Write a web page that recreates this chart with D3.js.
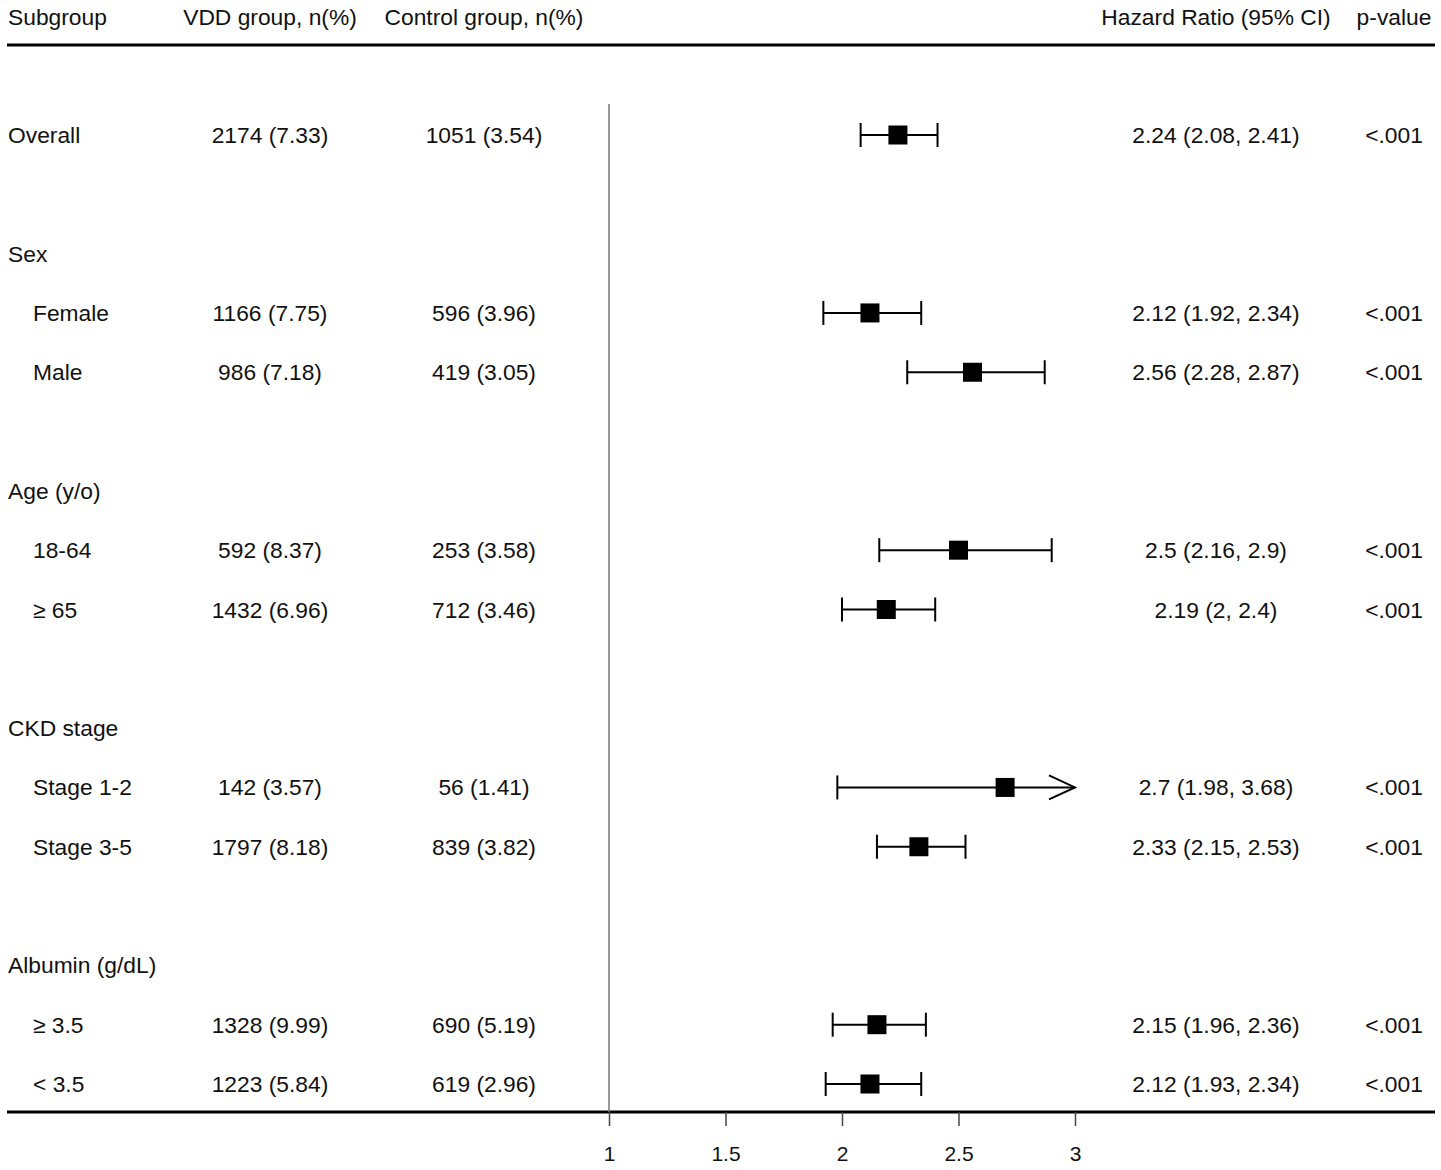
<!DOCTYPE html>
<html><head><meta charset="utf-8">
<script src="https://cdn.jsdelivr.net/npm/d3@7/dist/d3.min.js"></script>
<style>body{margin:0;background:#fff}svg{display:block}text{font-family:"Liberation Sans",Arial,sans-serif;fill:#111}</style>
</head><body><svg id="c" width="1441" height="1170"></svg>
<script>
const headers = ["Subgroup","VDD group, n(%)","Control group, n(%)","Hazard Ratio (95% CI)","p-value"];
const rowIndex = [0,2,3,4,6,7,8,10,11,12,14,15,16];
const labels = ["Overall","Sex","Female","Male","Age (y/o)","18-64","≥ 65","CKD stage","Stage 1-2","Stage 3-5","Albumin (g/dL)","≥ 3.5","< 3.5"];
const indent = [false,false,true,true,false,true,true,false,true,true,false,true,true];
const vddN = ["2174 (7.33)","","1166 (7.75)","986 (7.18)","","592 (8.37)","1432 (6.96)","","142 (3.57)","1797 (8.18)","","1328 (9.99)","1223 (5.84)"];
const ctrlN = ["1051 (3.54)","","596 (3.96)","419 (3.05)","","253 (3.58)","712 (3.46)","","56 (1.41)","839 (3.82)","","690 (5.19)","619 (2.96)"];
const hr =    [2.24,null,2.12,2.56,null,2.5,2.19,null,2.7,2.33,null,2.15,2.12];
const lower = [2.08,null,1.92,2.28,null,2.16,2,null,1.98,2.15,null,1.96,1.93];
const upper = [2.41,null,2.34,2.87,null,2.9,2.4,null,3.68,2.53,null,2.36,2.34];
const pval =  ["<.001","","<.001","<.001","","<.001","<.001","","<.001","<.001","","<.001","<.001"];
const xTicks = [1,1.5,2,2.5,3];

const svg = d3.select("#c");
const x = d3.scaleLinear().domain([1,3]).range([609,1075]);
const y = d3.scaleLinear().domain([0,16]).range([135,1084]);
const fs = 22.8;
const colX = {sub:8, subIndent:33, vdd:270, ctrl:484, hr:1216, p:1394};

// header
const hy = 17;
svg.append("text").attr("x",colX.sub).attr("y",hy).attr("dominant-baseline","central").attr("font-size",fs).text(headers[0]);
svg.append("text").attr("x",colX.vdd).attr("y",hy).attr("text-anchor","middle").attr("dominant-baseline","central").attr("font-size",fs).text(headers[1]);
svg.append("text").attr("x",colX.ctrl).attr("y",hy).attr("text-anchor","middle").attr("dominant-baseline","central").attr("font-size",fs).text(headers[2]);
svg.append("text").attr("x",colX.hr).attr("y",hy).attr("text-anchor","middle").attr("dominant-baseline","central").attr("font-size",fs).text(headers[3]);
svg.append("text").attr("x",colX.p).attr("y",hy).attr("text-anchor","middle").attr("dominant-baseline","central").attr("font-size",fs).text(headers[4]);

svg.append("line").attr("x1",7).attr("x2",1435).attr("y1",45).attr("y2",45).attr("stroke","#000").attr("stroke-width",3);
svg.append("line").attr("x1",7).attr("x2",1435).attr("y1",1112).attr("y2",1112).attr("stroke","#000").attr("stroke-width",3);

// reference line
svg.append("line").attr("x1",x(1)).attr("x2",x(1)).attr("y1",104).attr("y2",1112).attr("stroke","#777").attr("stroke-width",1.5);

const rows = labels.map((l,i)=>({l,i:rowIndex[i],ind:indent[i],v:vddN[i],c:ctrlN[i],hr:hr[i],lo:lower[i],hi:upper[i],p:pval[i]}));
const g = svg.append("g");
rows.forEach(r=>{
  const yy = y(r.i);
  g.append("text").attr("x",r.ind?colX.subIndent:colX.sub).attr("y",yy).attr("dominant-baseline","central").attr("font-size",fs).text(r.l);
  if(r.v) g.append("text").attr("x",colX.vdd).attr("y",yy).attr("text-anchor","middle").attr("dominant-baseline","central").attr("font-size",fs).text(r.v);
  if(r.c) g.append("text").attr("x",colX.ctrl).attr("y",yy).attr("text-anchor","middle").attr("dominant-baseline","central").attr("font-size",fs).text(r.c);
  if(r.hr!=null){
    g.append("text").attr("x",colX.hr).attr("y",yy).attr("text-anchor","middle").attr("dominant-baseline","central").attr("font-size",fs).text(`${r.hr} (${r.lo}, ${r.hi})`);
    g.append("text").attr("x",colX.p).attr("y",yy).attr("text-anchor","middle").attr("dominant-baseline","central").attr("font-size",fs).text(r.p);
    const hiC = Math.min(r.hi,3), loC = Math.max(r.lo,1);
    g.append("line").attr("x1",x(loC)).attr("x2",x(hiC)).attr("y1",yy).attr("y2",yy).attr("stroke","#000").attr("stroke-width",2);
    g.append("line").attr("x1",x(loC)).attr("x2",x(loC)).attr("y1",yy-12).attr("y2",yy+12).attr("stroke","#000").attr("stroke-width",2);
    if(r.hi>3){
      g.append("path").attr("d",`M${x(3)-26},${yy-12}L${x(3)},${yy}L${x(3)-26},${yy+12}`).attr("fill","none").attr("stroke","#000").attr("stroke-width",2);
    } else {
      g.append("line").attr("x1",x(hiC)).attr("x2",x(hiC)).attr("y1",yy-12).attr("y2",yy+12).attr("stroke","#000").attr("stroke-width",2);
    }
    g.append("rect").attr("x",x(r.hr)-9.5).attr("y",yy-9.5).attr("width",19).attr("height",19).attr("fill","#000");
  }
});

// axis
const axis = d3.axisBottom(x).tickValues(xTicks).tickSize(14).tickPadding(20).tickFormat(d=>String(d));
const ax = svg.append("g").attr("transform","translate(0,1112)").call(axis);
ax.select(".domain").remove();
ax.selectAll(".tick line").attr("stroke","#444").attr("stroke-width",1.5);
ax.selectAll(".tick text").attr("font-size",21).attr("font-family","Liberation Sans, Arial, sans-serif").attr("fill","#111");
</script></body></html>
